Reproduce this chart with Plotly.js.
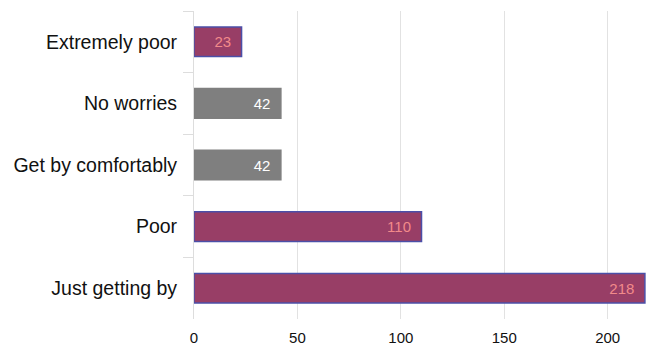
<!DOCTYPE html>
<html>
<head>
<meta charset="utf-8">
<script src="https://cdn.plot.ly/plotly-3.0.1.min.js"></script>
<style>html,body{margin:0;padding:0;background:#fff;}#chart{width:656px;height:345px;}</style>
</head>
<body>
<div id="chart"></div>
<script>
const categories = ["Extremely poor", "No worries", "Get by comfortably", "Poor", "Just getting by"];
const values = [23, 42, 42, 110, 218];
const highlighted = [true, false, false, true, true];
const xTicks = [0, 50, 100, 150, 200];

const fillColors = highlighted.map(h => h ? "#983e66" : "#7f7f7f");
const lineColors = highlighted.map(h => h ? "#4b4fa8" : "#7f7f7f");
const textColors = highlighted.map(h => h ? "#f28a8a" : "#ffffff");

const trace = {
  type: "bar",
  orientation: "h",
  y: categories,
  x: values,
  text: values.map(v => String(v) + "\u2002"),
  textposition: "inside",
  insidetextanchor: "end",
  textfont: {family: "Liberation Sans, Arial, sans-serif", size: 15, color: textColors},
  marker: {color: fillColors, line: {color: lineColors, width: 1.5}},
  width: 0.48,
  hoverinfo: "none"
};

const layout = {
  width: 656, height: 345,
  margin: {l: 194, r: 8, t: 11, b: 26},
  paper_bgcolor: "#ffffff",
  plot_bgcolor: "#ffffff",
  showlegend: false,
  font: {family: "Liberation Sans, Arial, sans-serif", color: "#111"},
  xaxis: {
    range: [0, 219.5],
    tickvals: xTicks,
    ticktext: xTicks.map(String),
    showgrid: true,
    gridcolor: "#e2e2e2",
    gridwidth: 1,
    zeroline: false,
    showline: false,
    ticks: "",
    ticklabelstandoff: 8,
    tickfont: {size: 15, color: "#111"},
    fixedrange: true
  },
  yaxis: {
    type: "category",
    categoryorder: "array",
    categoryarray: categories,
    autorange: "reversed",
    showline: true,
    linecolor: "#dddddd",
    linewidth: 1,
    ticks: "outside",
    tickson: "boundaries",
    ticklen: 10,
    tickcolor: "#dddddd",
    ticklabelstandoff: 12,
    showgrid: false,
    tickfont: {size: 19.5, color: "#111"},
    fixedrange: true
  }
};

Plotly.newPlot("chart", [trace], layout, {displayModeBar: false, staticPlot: true});
</script>
</body>
</html>
